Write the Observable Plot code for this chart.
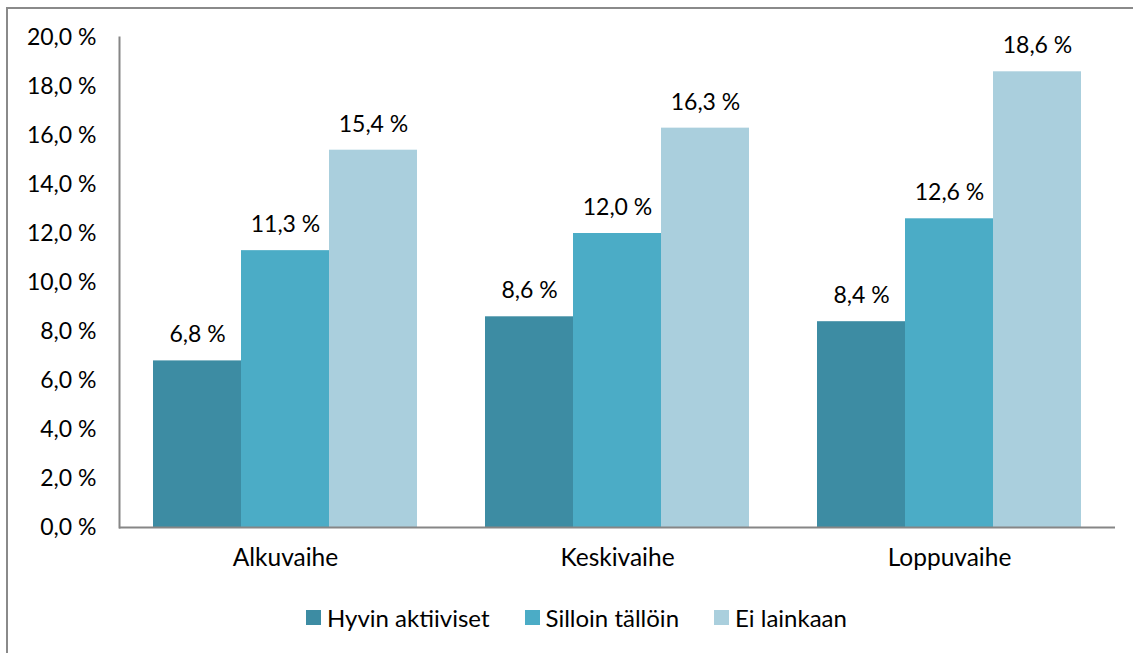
<!DOCTYPE html>
<html>
<head>
<meta charset="utf-8">
<script src="https://cdn.jsdelivr.net/npm/d3@7"></script>
<script src="https://cdn.jsdelivr.net/npm/@observablehq/plot@0.6"></script>
<style>
  html, body { margin: 0; padding: 0; background: #fff; }
  #wrap { position: relative; width: 1133px; height: 653px; overflow: hidden; font-family: Lato, "Open Sans", sans-serif; }
  #border { position: absolute; left: 6px; top: 7px; width: 1200px; height: 700px; border-left: 2px solid #8a8a8a; border-top: 2px solid #8a8a8a; box-sizing: border-box; }
  #chart { position: absolute; left: 0; top: 0; }
  #legend { position: absolute; left: 306px; top: 602px; height: 30px; display: flex; align-items: center; font-size: 24px; color: #000; white-space: nowrap; }
  .item { display: flex; align-items: center; margin-right: 35px; }
  .sw { width: 15px; height: 15px; margin-right: 6px; }
</style>
</head>
<body>
<div id="wrap">
  <div id="border"></div>
  <div id="chart"></div>
  <div id="legend"></div>
</div>
<script>
const stages = ["Alkuvaihe", "Keskivaihe", "Loppuvaihe"];
const series = ["Hyvin aktiiviset", "Silloin tällöin", "Ei lainkaan"];
const hyvinAktiiviset = [6.8, 8.6, 8.4];
const silloinTalloin = [11.3, 12.0, 12.6];
const eiLainkaan = [15.4, 16.3, 18.6];
const yTicks = [0, 2, 4, 6, 8, 10, 12, 14, 16, 18, 20];
const colors = ["#3d8ca3", "#4bacc6", "#aacfdd"];

const seriesValues = [hyvinAktiiviset, silloinTalloin, eiLainkaan];
const data = [];
stages.forEach((st, i) => {
  series.forEach((se, j) => {
    data.push({stage: st, series: se, value: seriesValues[j][i]});
  });
});
const fmt = d => d.toFixed(1).replace(".", ",") + " %";
const font = "Lato, 'Open Sans', sans-serif";
const fsNum = 23;
const fsText = 24.5;

const chart = Plot.plot({
  width: 1133,
  height: 590,
  marginLeft: 119,
  marginRight: 18,
  marginTop: 37,
  marginBottom: 63,
  style: {fontFamily: font, fontSize: fsNum + "px", color: "#000", background: "transparent"},
  fx: {domain: stages, padding: 0, label: null},
  x: {domain: series, paddingInner: 0, paddingOuter: 0.375, axis: null},
  y: {domain: [0, 20], label: null},
  color: {domain: series, range: colors},
  marks: [
    Plot.barY(data, {fx: "stage", x: "series", y: "value", fill: "series"}),
    Plot.text(data, {fx: "stage", x: "series", y: "value", text: d => fmt(d.value), dy: -26, lineAnchor: "middle", fontSize: fsNum, fill: "#000"}),
    Plot.ruleY([0], {stroke: "#868686", strokeWidth: 2}),
    Plot.frame({anchor: "left", facetAnchor: "left", stroke: "#868686", strokeWidth: 2}),
    Plot.axisY({ticks: yTicks, tickFormat: fmt, tickSize: 0, tickPadding: 23, fontSize: fsNum, label: null}),
    Plot.axisFx({anchor: "bottom", tickSize: 0, tickPadding: 21, fontSize: fsText, label: null})
  ]
});
document.getElementById("chart").appendChild(chart);

const legend = document.getElementById("legend");
series.forEach((s, i) => {
  const item = document.createElement("div");
  item.className = "item";
  const sw = document.createElement("div");
  sw.className = "sw";
  sw.style.background = colors[i];
  const lab = document.createElement("span");
  lab.textContent = s;
  item.appendChild(sw);
  item.appendChild(lab);
  legend.appendChild(item);
});
</script>
</body>
</html>
